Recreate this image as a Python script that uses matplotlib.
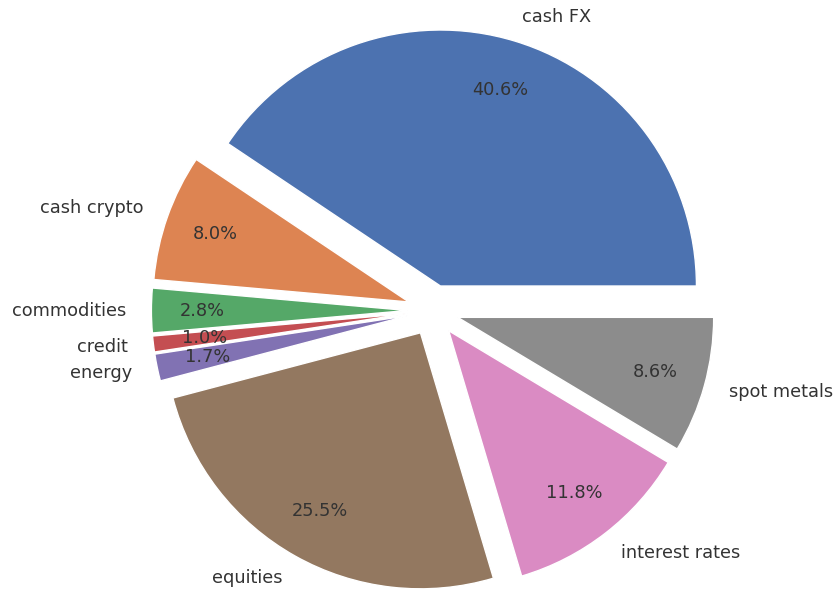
import matplotlib
matplotlib.use("Agg")
import matplotlib.pyplot as plt
import seaborn as sns

sns.set_theme()
plt.rcParams['font.family'] = ['DejaVu Sans']

labels = ["cash FX", "cash crypto", "commodities", "credit", "energy",
          "equities", "interest rates", "spot metals"]
values = [40.6, 8.0, 2.8, 1.0, 1.7, 25.5, 11.8, 8.6]

colors = sns.color_palette("deep", len(values))
explode = [0.1] * len(values)

W, H = 838, 594
fig = plt.figure(figsize=(W / 100, H / 100), dpi=100)
ax = fig.add_axes([0.0, 0.0, 1.0, 1.0])
wedges, texts, autotexts = ax.pie(values, labels=labels, colors=colors, explode=explode,
                                  autopct='%1.1f%%', pctdistance=0.8, startangle=0,
                                  textprops={'fontsize': 12.8, 'color': '#333333'})
r_px = 256.0
cx, cy = 433.0, H - 310.5
ax.set_aspect('auto')
ax.set_xlim(-cx / r_px, (W - cx) / r_px)
ax.set_ylim(-cy / r_px, (H - cy) / r_px)
fig.savefig("out.png", dpi=100)
